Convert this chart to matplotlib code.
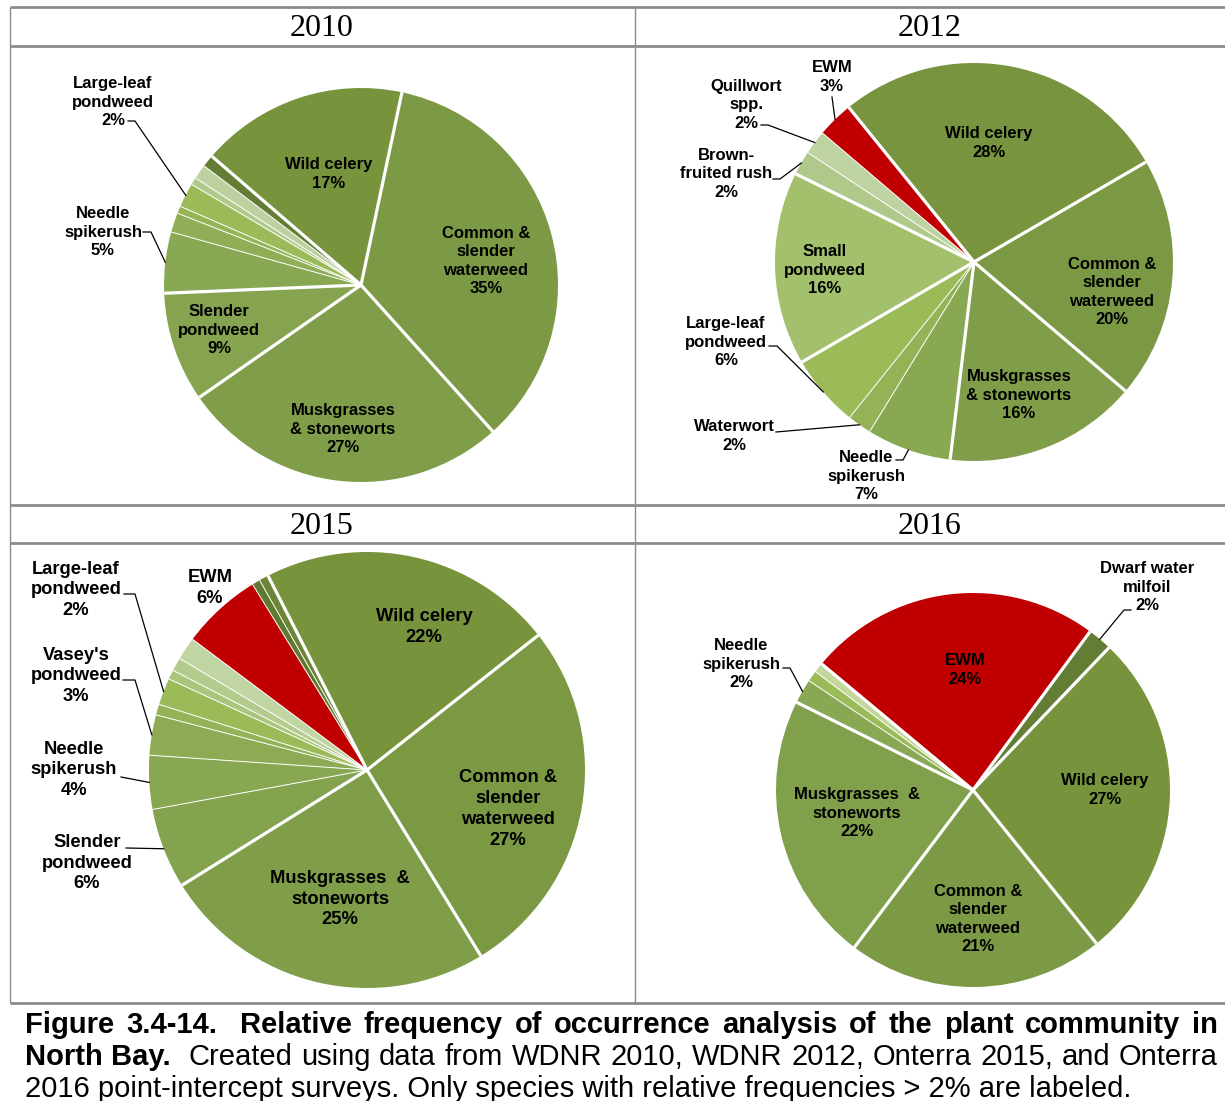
import matplotlib.pyplot as plt
import numpy as np

W, H = 1225, 1101
SANS = "Liberation Sans"

# --- survey data (relative frequency of occurrence, %) ---
names_2010 = ["Common &\nslender\nwaterweed", "Muskgrasses\n& stoneworts", "Slender\npondweed",
              "Needle\nspikerush", "", "", "Large-leaf\npondweed", "", "", "", "Wild celery"]
freq_2010 = [35, 27, 9, 5, 1.6, 0.6, 2, 0.6, 1.2, 1.0, 17]

names_2012 = ["Wild celery", "Common &\nslender\nwaterweed", "Muskgrasses\n& stoneworts",
              "Needle\nspikerush", "Waterwort", "Large-leaf\npondweed", "Small\npondweed",
              "Brown-\nfruited rush", "Quillwort\nspp.", "EWM"]
freq_2012 = [28, 20, 16, 7, 2, 6, 16, 2, 2, 3]

names_2015 = ["Wild celery", "Common &\nslender\nwaterweed", "Muskgrasses  &\nstoneworts",
              "Slender\npondweed", "Needle\nspikerush", "Vasey's\npondweed", "", "Large-leaf\npondweed",
              "", "", "", "EWM", "", ""]
freq_2015 = [22, 27, 25, 6, 4, 3, 0.8, 2, 0.7, 1.0, 1.7, 6, 0.6, 0.7]

names_2016 = ["EWM", "Dwarf water\nmilfoil", "Wild celery", "Common &\nslender\nwaterweed",
              "Muskgrasses  &\nstoneworts", "Needle\nspikerush", "", ""]
freq_2016 = [24, 2, 27, 21, 22, 2, 0.9, 0.8]

# --- slice colours ---
RED = "#c00000"
colors_2010 = ["#7c9a45", "#809e4a", "#86a44f", "#89a853", "#8fae55", "#94b456",
               "#9bbb59", "#b2c98c", "#bdd1a0", "#637d34", "#77933c"]
colors_2012 = ["#78943f", "#7b9944", "#809e4a", "#89a852", "#93b356", "#9bbb59",
               "#a3c06c", "#b0c98a", "#bed3a1", RED]
colors_2015 = ["#77933c", "#7b9943", "#809e4a", "#84a34e", "#88a752", "#8cab54",
               "#93b356", "#9bbb59", "#abc57c", "#b4cb8e", "#c1d5a3", RED, "#5f7a30", "#6a8537"]
colors_2016 = [RED, "#637d34", "#77933c", "#7c9a45", "#81a04b", "#89a853", "#9bbb59", "#c3d69b"]

pies = [
    dict(year="2010", head=(322, 28), names=names_2010, freq=freq_2010, colors=colors_2010,
         center=(361, 285), r=197, start=12, size=12,
         text_at={0: (486, 261), 1: (343, 429), 2: (219, 330), 3: (103, 232),
                  6: (113, 102), 10: (329, 174)},
         leaders={3: [(143, 232), (151, 232)], 6: [(128, 121), (135, 121)]}),
    dict(year="2012", head=(930, 28), names=names_2012, freq=freq_2012, colors=colors_2012,
         center=(974, 262), r=199, start=321, size=12,
         text_at={0: (989, 143), 1: (1112, 292), 2: (1019, 395), 3: (866, 476), 4: (734, 436),
                  5: (726, 342), 6: (825, 270), 7: (726, 174), 8: (746, 105), 9: (832, 77)},
         leaders={3: [(896, 460), (903, 460)], 4: [(776, 432)], 5: [(769, 346), (777, 346)],
                  7: [(773, 179), (780, 179)], 8: [(761, 125), (768, 125)], 9: [(832, 97)]}),
    dict(year="2015", head=(322, 526), names=names_2015, freq=freq_2015, colors=colors_2015,
         center=(367, 770), r=218, start=333, size=13.2,
         text_at={0: (424, 627), 1: (508, 809), 2: (340, 899), 3: (87, 863), 4: (74, 770),
                  5: (76, 676), 7: (76, 590), 11: (210, 588)},
         leaders={3: [(126, 848)], 4: [(121, 777)], 5: [(123, 680), (135, 680)],
                  7: [(124, 594), (135, 594)]}),
    dict(year="2016", head=(930, 526), names=names_2016, freq=freq_2016, colors=colors_2016,
         center=(973, 790), r=197, start=309.8, size=12,
         text_at={0: (965, 670), 1: (1147, 587), 2: (1105, 790), 3: (978, 919), 4: (857, 813),
                  5: (741, 664)},
         leaders={1: [(1131, 610), (1124, 610)], 5: [(783, 668), (790, 668)]}),
]

fig = plt.figure(figsize=(W / 100, H / 100), dpi=100)
ax = fig.add_axes([0, 0, 1, 1])

for p in pies:
    cx, cy = p["center"]
    r = p["r"]
    # y axis runs downward, so counterclock=True turns clockwise on screen
    wedges, _ = ax.pie(p["freq"], colors=p["colors"], radius=r, center=(cx, cy),
                       startangle=p["start"] - 90, counterclock=True, frame=True,
                       wedgeprops=dict(linewidth=0))
    # white separators between slices
    for k, w in enumerate(wedges):
        prev = p["freq"][k - 1]
        big = max(prev, p["freq"][k]) >= 9
        th = np.deg2rad(w.theta1)
        ax.plot([cx, cx + r * np.cos(th)], [cy, cy + r * np.sin(th)], color="white",
                lw=2.3 if big else 0.7, solid_capstyle="butt", zorder=3)
    # labels
    for k, (tx, ty) in p["text_at"].items():
        pct = round(p["freq"][k])
        ax.text(tx, ty, f"{p['names'][k]}\n{pct}%", ha="center", va="center",
                multialignment="center", fontsize=p["size"], fontweight="bold",
                family=SANS, linespacing=1.3, zorder=5)
    for k, pts in p["leaders"].items():
        w = wedges[k]
        mid = np.deg2rad((w.theta1 + w.theta2) / 2)
        rim = (cx + r * np.cos(mid), cy + r * np.sin(mid))
        xs = [q[0] for q in pts] + [rim[0]]
        ys = [q[1] for q in pts] + [rim[1]]
        ax.plot(xs, ys, color="black", lw=0.9, zorder=4)
    ax.text(p["head"][0], p["head"][1], p["year"], ha="center", va="center",
            family="Liberation Serif", fontsize=23)

# table rules
GRID = "#8c8c8c"
for y in [7, 46, 505, 543, 1003]:
    ax.plot([10, W], [y, y], color=GRID, lw=2.0, solid_capstyle="butt")
for x in [10, 635]:
    ax.plot([x, x], [7, 1003], color=GRID, lw=1.0, solid_capstyle="butt")

ax.set_xlim(0, W)
ax.set_ylim(H, 0)
ax.set_aspect("auto")
ax.axis("off")

# caption, first two lines justified
CAP = 21
renderer = fig.canvas.get_renderer()


def text_width(s, weight):
    t = ax.text(0, 0, s, fontsize=CAP, fontweight=weight, family=SANS)
    wd = t.get_window_extent(renderer).width
    t.remove()
    return wd


def justify(tokens, y, x0, x1):
    space = {wt: text_width("a a", wt) - text_width("aa", wt) for wt in ("bold", "normal")}
    widths = [text_width(s, wt) for _, s, wt in tokens]
    nat = sum(widths) + sum(ns * space[wt] for ns, _, wt in tokens)
    nsp = sum(ns for ns, _, _ in tokens)
    extra = (x1 - x0 - nat) / nsp
    x = x0
    for (ns, s, wt), wd in zip(tokens, widths):
        x += ns * (space[wt] + extra)
        ax.text(x, y, s, fontsize=CAP, fontweight=wt, family=SANS, va="baseline", ha="left")
        x += wd


def tok(text, weight, lead=0):
    out = []
    for word in text.split(" "):
        if word == "":
            lead += 1
            continue
        out.append((lead, word, weight))
        lead = 1
    return out


line1 = tok("Figure 3.4-14.  Relative frequency of occurrence analysis of the plant community in", "bold")
line2 = tok("North Bay.", "bold") + tok("Created using data from WDNR 2010, WDNR 2012, Onterra 2015, and Onterra",
                                         "normal", lead=2)
justify(line1, 1033, 25, 1218)
justify(line2, 1065, 25, 1218)
ax.text(25, 1097, "2016 point-intercept surveys. Only species with relative frequencies > 2% are labeled.",
        fontsize=CAP, family=SANS, va="baseline", ha="left")

fig.savefig("out.png", dpi=100)
